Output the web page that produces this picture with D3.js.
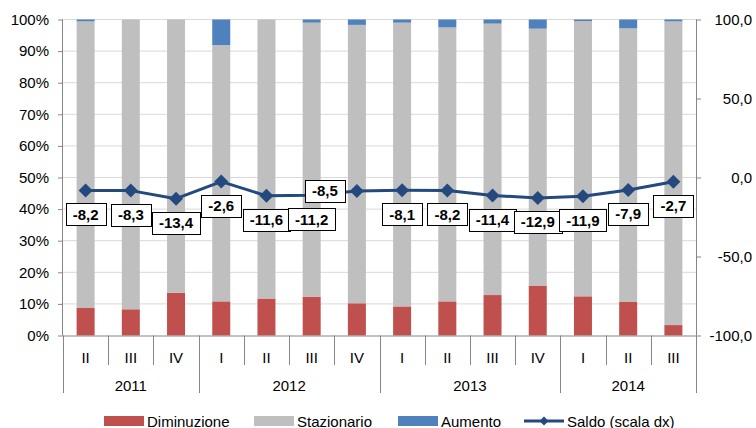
<!DOCTYPE html>
<html>
<head>
<meta charset="utf-8">
<script src="https://cdn.jsdelivr.net/npm/d3@7"></script>
<style>
  html, body { margin: 0; padding: 0; background: #fff; }
  svg { display: block; font-family: "Liberation Sans", Arial, sans-serif; }
</style>
</head>
<body>
<svg id="chart" width="756" height="428"></svg>
<script>
const quarters = ["II","III","IV","I","II","III","IV","I","II","III","IV","I","II","III"];
const years    = ["2011","2011","2011","2012","2012","2012","2012","2013","2013","2013","2013","2014","2014","2014"];
const diminuzione = [8.7, 8.3, 13.5, 10.8, 11.7, 12.3, 10.2, 9.2, 10.8, 12.8, 15.8, 12.4, 10.6, 3.3];
const stazionario = [90.7, 91.7, 86.5, 81.1, 88.3, 86.7, 88.1, 89.8, 86.7, 85.9, 81.3, 87.1, 86.6, 96.1];
const aumento     = [0.6, 0, 0, 8.1, 0, 1.0, 1.7, 1.0, 2.5, 1.3, 2.9, 0.5, 2.8, 0.6];
const saldo       = [-8.2, -8.3, -13.4, -2.6, -11.6, -11.2, -8.5, -8.1, -8.2, -11.4, -12.9, -11.9, -7.9, -2.7];
const leftTicks  = [0,10,20,30,40,50,60,70,80,90,100];
const rightTicks = [-100,-50,0,50,100];
const seriesNames = ["Diminuzione","Stazionario","Aumento"];
const lineName = "Saldo (scala dx)";

const colors = {Diminuzione:"#C0504D", Stazionario:"#BFBFBF", Aumento:"#4F81BD"};
const lineColor = "#23497E";
const axisColor = "#868686";
const gridColor = "#D9D9D9";

const loc = d3.formatLocale({decimal:",", thousands:".", grouping:[3], currency:["","€"], minus:"-"});
const fmt1 = loc.format(".1f");

const svg = d3.select("#chart");
const L = 63, R = 696, T = 19.5, B = 335.5;
const keys = quarters.map((q,i) => years[i] + "-" + q);

const x = d3.scaleBand().domain(keys).range([L, R]).paddingInner(0.602).paddingOuter(0.301);
const step = x.step();
const yL = d3.scaleLinear().domain([0,100]).range([B, T]);
const yR = d3.scaleLinear().domain([-100,100]).range([B, T]);

// gridlines
svg.append("g").selectAll("line").data(leftTicks.filter(t => t > 0)).join("line")
  .attr("x1", L).attr("x2", R).attr("y1", d => yL(d)).attr("y2", d => yL(d))
  .attr("stroke", gridColor).attr("stroke-width", 1);

// stacked bars
const rows = keys.map((k,i) => ({key:k, Diminuzione:diminuzione[i], Stazionario:stazionario[i], Aumento:aumento[i]}));
const stack = d3.stack().keys(seriesNames)(rows);
svg.append("g").selectAll("g").data(stack).join("g")
  .attr("fill", s => colors[s.key])
  .selectAll("rect").data(s => s).join("rect")
  .attr("x", d => x(d.data.key)).attr("width", x.bandwidth())
  .attr("y", d => yL(d[1])).attr("height", d => Math.max(0, yL(d[0]) - yL(d[1])));

// left axis
const gl = svg.append("g").attr("transform", `translate(${L},0)`)
  .call(d3.axisLeft(yL).tickValues(leftTicks).tickFormat(d => d + "%").tickSize(5).tickPadding(9));
gl.select(".domain").attr("stroke", axisColor).attr("d", `M-0.5,${T}V${B}`);
gl.selectAll(".tick line").attr("stroke", axisColor);
gl.selectAll(".tick text").attr("font-size", 15).attr("fill", "#000").attr("font-family", "Liberation Sans, Arial, sans-serif");

// right axis
const gr = svg.append("g").attr("transform", `translate(${R},0)`)
  .call(d3.axisRight(yR).tickValues(rightTicks).tickFormat(fmt1).tickSize(5).tickPadding(12));
gr.select(".domain").attr("stroke", axisColor).attr("d", `M0.5,${T}V${B}`);
gr.selectAll(".tick line").attr("stroke", axisColor);
gr.selectAll(".tick text").attr("font-size", 15).attr("fill", "#000")
  .attr("font-family", "Liberation Sans, Arial, sans-serif")
  .attr("text-anchor", "end").attr("x", 56);

// bottom axis with category & year levels
const xa = svg.append("g");
xa.append("line").attr("x1", L).attr("x2", R).attr("y1", B + 0.5).attr("y2", B + 0.5).attr("stroke", axisColor);
keys.forEach((k,i) => {
  const bx = x(k) - x.paddingInner() * step / 2;
  const isYearStart = i === 0 || years[i] !== years[i-1];
  xa.append("line").attr("x1", Math.round(bx) + 0.5).attr("x2", Math.round(bx) + 0.5)
    .attr("y1", B).attr("y2", isYearStart ? 393 : 365).attr("stroke", axisColor);
  xa.append("text").attr("x", x(k) + x.bandwidth()/2).attr("y", 357)
    .attr("text-anchor", "middle").attr("dominant-baseline", "central")
    .attr("font-size", 15).text(quarters[i]);
});
xa.append("line").attr("x1", R + 0.5).attr("x2", R + 0.5).attr("y1", B).attr("y2", 393).attr("stroke", axisColor);
const yearNames = Array.from(new Set(years));
yearNames.forEach(yn => {
  const idx = keys.filter((k,i) => years[i] === yn);
  const x0 = x(idx[0]) - x.paddingInner() * step / 2;
  const x1 = x(idx[idx.length-1]) + x.bandwidth() + x.paddingInner() * step / 2;
  xa.append("text").attr("x", (x0 + x1)/2).attr("y", 385)
    .attr("text-anchor", "middle").attr("dominant-baseline", "central")
    .attr("font-size", 15).text(yn);
});

// saldo line
const cx = i => x(keys[i]) + x.bandwidth()/2;
const line = d3.line().x((d,i) => cx(i)).y(d => yR(d));
svg.append("path").datum(saldo).attr("d", line)
  .attr("fill", "none").attr("stroke", lineColor).attr("stroke-width", 3).attr("stroke-linejoin", "round");
const diamond = r => `M0,${-r}L${r},0L0,${r}L${-r},0Z`;
svg.append("g").selectAll("path").data(saldo).join("path")
  .attr("transform", (d,i) => `translate(${cx(i)},${yR(d)})`)
  .attr("d", diamond(7)).attr("fill", lineColor);

// data labels
const leftPlaced = new Set(["2012-IV"]);
const lg = svg.append("g");
saldo.forEach((v,i) => {
  const txt = fmt1(v);
  const t = lg.append("text").attr("font-size", 15).attr("font-weight", "bold").text(txt);
  const w = t.node().getComputedTextLength() + 14, h = 22;
  let bx, by;
  if (leftPlaced.has(keys[i])) { bx = cx(i) - 12 - w; by = yR(v) - h/2; }
  else { bx = cx(i) - w/2; by = yR(v) + 13; }
  lg.insert("rect", "text").attr("x", Math.round(bx) + 0.5).attr("y", Math.round(by) + 0.5)
    .attr("width", Math.round(w)).attr("height", h)
    .attr("fill", "#fff").attr("stroke", "#000").attr("stroke-width", 1);
  t.attr("x", bx + w/2).attr("y", by + h/2).attr("text-anchor", "middle").attr("dominant-baseline", "central");
});

// legend
const leg = svg.append("g");
const legItems = [
  {name:seriesNames[0], x:104, type:"rect"},
  {name:seriesNames[1], x:254, type:"rect"},
  {name:seriesNames[2], x:398, type:"rect"},
  {name:lineName, x:524, type:"line"}
];
legItems.forEach(it => {
  if (it.type === "rect") {
    leg.append("rect").attr("x", it.x).attr("y", 416).attr("width", 40).attr("height", 10).attr("fill", colors[it.name]);
  } else {
    leg.append("line").attr("x1", it.x).attr("x2", it.x + 40).attr("y1", 421).attr("y2", 421)
      .attr("stroke", lineColor).attr("stroke-width", 3);
    leg.append("path").attr("transform", `translate(${it.x + 20},421)`).attr("d", diamond(4.5)).attr("fill", lineColor);
  }
  leg.append("text").attr("x", it.x + 43).attr("y", 421).attr("dominant-baseline", "central")
    .attr("font-size", 15).text(it.name);
});
</script>
</body>
</html>
